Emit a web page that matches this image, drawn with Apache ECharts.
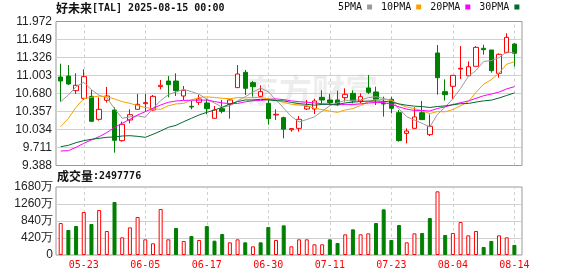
<!DOCTYPE html>
<html><head><meta charset="utf-8">
<script src="https://cdn.jsdelivr.net/npm/echarts@6/dist/echarts.min.js"></script>
<style>html,body{margin:0;padding:0;background:#fff}#c{width:578px;height:276px}</style>
</head><body><div id="c"></div>
<script>
// ---- data ----
const stockName = '好未来';
const stockCode = 'TAL';
const stampText = '2025-08-15 00:00';
const lastVolume = 2497776;
const prevClose = 10.85; // estimated close before the first bar (first volume bar is red)

const dates = ['05-20','05-21','05-22','05-23','05-27','05-28','05-29','05-30',
  '06-02','06-03','06-04','06-05','06-06','06-09','06-10','06-11','06-12','06-13','06-16','06-17',
  '06-18','06-20','06-23','06-24','06-25','06-26','06-27','06-30',
  '07-01','07-02','07-03','07-07','07-08','07-09','07-10','07-11','07-14','07-15','07-16','07-17','07-18',
  '07-21','07-22','07-23','07-24','07-25','07-28','07-29','07-30','07-31',
  '08-01','08-04','08-05','08-06','08-07','08-08','08-11','08-12','08-13','08-14'];
const labelDates = ['05-23','06-05','06-17','06-30','07-11','07-23','08-04','08-14'];

const opens  = [10.976,10.994,10.731,10.593,10.629,10.217,10.558,10.384,9.834,10.205,
  10.396,10.498,10.384,10.803,10.904,10.904,10.635,10.450,10.522,10.510,
  10.235,10.408,10.486,10.785,11.060,10.875,10.629,10.504,10.295,10.247,
  10.030,10.055,10.402,10.402,10.611,10.564,10.564,10.605,10.683,10.546,
  10.779,10.707,10.504,10.576,10.336,9.965,10.055,10.336,9.942,11.407,
  10.713,10.809,11.120,10.998,11.168,11.491,11.461,11.042,11.413,11.568];
const closes = [10.904,10.851,10.827,10.982,10.181,10.396,10.635,9.840,10.127,10.300,
  10.486,10.516,10.629,10.827,10.839,10.731,10.737,10.438,10.582,10.408,
  10.384,10.360,10.564,11.030,10.773,10.803,10.713,10.229,10.307,10.040,
  10.050,10.217,10.450,10.546,10.564,10.516,10.492,10.665,10.546,10.623,
  10.701,10.576,10.492,10.414,9.834,10.007,10.259,10.211,10.091,10.964,
  10.659,11.006,11.132,11.160,11.508,11.467,11.090,11.383,11.688,11.401];
const lows   = [10.534,10.833,10.671,10.563,10.170,10.193,10.516,9.619,9.816,10.145,
  10.390,10.354,10.372,10.755,10.611,10.635,10.563,10.396,10.474,10.306,
  10.235,10.324,10.229,10.780,10.653,10.623,10.611,10.121,10.205,9.876,
  9.995,9.995,10.384,10.312,10.480,10.468,10.456,10.534,10.504,10.504,
  10.671,10.474,10.265,10.324,9.816,9.786,10.050,10.211,9.917,10.659,
  10.552,10.582,10.940,10.994,11.168,11.377,11.054,10.964,11.413,11.162];
const highs  = [11.215,11.191,11.042,11.114,10.743,10.611,10.797,10.432,10.175,10.396,
  10.671,10.671,10.653,10.922,10.994,11.042,10.815,10.546,10.653,10.582,
  10.456,10.564,10.576,11.191,11.102,10.905,10.827,10.564,10.396,10.265,
  10.061,10.277,10.564,10.588,10.737,10.671,10.731,10.773,10.737,10.683,
  11.012,10.803,10.623,10.623,10.384,10.055,10.432,10.546,10.306,11.550,
  10.934,11.006,11.532,11.257,11.532,11.556,11.461,11.401,11.760,11.580];

// volume in 万 (10k shares)
const volumes = [790,618,716,1062,766,1112,593,1309,436,683,
  939,387,288,1136,387,667,346,469,371,716,
  354,519,313,387,313,214,313,692,371,733,
  214,387,387,264,264,387,296,511,634,511,
  535,790,1128,371,741,313,535,544,914,1573,
  494,544,815,486,593,198,346,486,436,249.78];

const ma5 = [10.534,10.653,10.803,10.880,10.749,10.647,10.604,10.407,10.236,10.260,
  10.278,10.254,10.412,10.552,10.659,10.708,10.753,10.714,10.665,10.579,
  10.510,10.434,10.460,10.549,10.622,10.706,10.777,10.710,10.565,10.418,
  10.268,10.169,10.213,10.261,10.365,10.459,10.514,10.557,10.557,10.568,
  10.605,10.622,10.588,10.561,10.403,10.265,10.201,10.145,10.080,10.306,
  10.437,10.586,10.770,10.984,11.093,11.255,11.271,11.322,11.427,11.406];
const ma10 = [10.085,10.235,10.432,10.588,10.611,10.635,10.623,10.582,10.534,10.504,
  10.463,10.429,10.409,10.394,10.460,10.493,10.503,10.563,10.609,10.619,
  10.609,10.594,10.587,10.607,10.601,10.608,10.606,10.585,10.557,10.520,
  10.487,10.473,10.461,10.413,10.392,10.363,10.341,10.385,10.409,10.467,
  10.532,10.568,10.572,10.559,10.486,10.435,10.412,10.366,10.321,10.355,
  10.351,10.394,10.458,10.532,10.700,10.846,10.929,11.046,11.206,11.249];
const ma20 = [9.648,9.655,9.714,9.786,9.846,9.906,9.978,10.073,10.145,10.217,
  10.295,10.354,10.414,10.474,10.522,10.546,10.555,10.560,10.560,10.562,
  10.536,10.511,10.498,10.501,10.530,10.550,10.554,10.574,10.583,10.570,
  10.548,10.533,10.524,10.510,10.496,10.486,10.473,10.485,10.483,10.494,
  10.509,10.520,10.517,10.486,10.439,10.399,10.376,10.376,10.365,10.411,
  10.441,10.481,10.515,10.546,10.593,10.640,10.670,10.706,10.763,10.802];
const ma30 = [9.726,9.750,9.798,9.834,9.858,9.876,9.894,9.900,9.917,9.923,
  9.911,9.894,9.948,10.007,10.073,10.109,10.175,10.235,10.295,10.342,
  10.384,10.432,10.492,10.534,10.564,10.564,10.576,10.564,10.552,10.548,
  10.520,10.498,10.486,10.471,10.484,10.488,10.483,10.511,10.525,10.536,
  10.543,10.545,10.540,10.526,10.493,10.469,10.453,10.445,10.429,10.447,
  10.457,10.478,10.497,10.501,10.526,10.548,10.561,10.599,10.645,10.690];

const priceTicks = [9.388,9.711,10.034,10.357,10.680,11.003,11.326,11.649,11.972];
const volTicks = [0,420,840,1260,1680];

// ---- chart ----
const UP = '#ff0000', DOWN = '#008000';
const chart = echarts.init(document.getElementById('c'), null, {renderer:'canvas'});
const PX0 = 56.85, PW = 461.4;
const monoFont = 'DejaVu Sans Mono';
const cjkFont = 'Noto Sans CJK SC';
const vLines = {
  silent: true, symbol: 'none', z: 1, animation: false,
  label: {show: false},
  lineStyle: {color: '#cfcfcf', type: [3, 3], width: 1},
  emphasis: {disabled: true},
  data: labelDates.map(d => ({xAxis: d}))
};
const candleData = dates.map((d, i) => [opens[i], closes[i], lows[i], highs[i]]);
const volData = volumes.map((v, i) => {
  const pc = i === 0 ? prevClose : closes[i - 1];
  const up = closes[i] >= pc;
  return {value: v, itemStyle: up ? {color: '#fff', borderColor: UP, borderWidth: 1}
                                   : {color: DOWN, borderColor: DOWN, borderWidth: 1}};
});
const maSeries = (name, data, color) => ({
  name, type: 'line', data, xAxisIndex: 1, yAxisIndex: 1,
  showSymbol: false, symbol: 'none', smooth: false, z: 3,
  lineStyle: {color, width: 1}, itemStyle: {color}, emphasis: {disabled: true}
});

const option = {
  animation: false,
  backgroundColor: '#fff',
  title: [
    {left: 56, top: 2, padding: 0,
     text: '{c|' + stockName + '}{m|[' + stockCode + '] ' + stampText + '}',
     textStyle: {rich: {c: {fontFamily: cjkFont, fontSize: 12, color: '#111'},
                        m: {fontFamily: monoFont, fontSize: 10, color: '#111'}}}},
    {left: 57, top: 170, padding: 0,
     text: '{c|成交量}{m|:' + lastVolume + '}',
     textStyle: {rich: {c: {fontFamily: cjkFont, fontSize: 12, color: '#111'},
                        m: {fontFamily: monoFont, fontSize: 10, color: '#111'}}}}
  ],
  legend: {
    left: 338, top: 2, padding: 0, align: 'right', icon: 'rect',
    itemWidth: 5, itemHeight: 5, itemGap: 9,
    data: ['5PMA', '10PMA', '20PMA', '30PMA'],
    textStyle: {fontFamily: monoFont, fontSize: 10, color: '#111'},
    selectedMode: false
  },
  graphic: [
    {type: 'text', left: 246, top: 74, z: -1, silent: true,
     style: {text: '东方财富', fill: 'rgba(0,0,0,0.07)', font: 'bold 33px "Noto Sans CJK SC"'}}
  ],
  grid: [
    {left: 56, top: 21.5, width: 466, height: 144, show: true, borderColor: '#999', borderWidth: 1},
    {left: PX0, top: 21.5, width: PW, height: 144},
    {left: 56, top: 187, width: 466, height: 68, show: true, borderColor: '#999', borderWidth: 1},
    {left: PX0, top: 187, width: PW, height: 68}
  ],
  xAxis: [
    {gridIndex: 0, type: 'value', min: 0, max: 1, show: false},
    {gridIndex: 1, type: 'category', data: dates, show: false},
    {gridIndex: 2, type: 'value', min: 0, max: 1, show: false},
    {gridIndex: 3, type: 'category', data: dates,
     axisLine: {show: false}, axisTick: {show: false}, splitLine: {show: false},
     axisLabel: {interval: (i, v) => labelDates.includes(v), color: '#ff0000',
                 fontFamily: monoFont, fontSize: 10, margin: 5}}
  ],
  yAxis: [
    {gridIndex: 0, type: 'value', min: priceTicks[0], max: priceTicks[priceTicks.length - 1],
     axisLine: {show: false},
     axisTick: {show: false, customValues: priceTicks.slice(1, -1)},
     axisLabel: {customValues: priceTicks, formatter: v => v.toFixed(3), margin: 4,
                 fontFamily: 'Liberation Sans', fontSize: 12, color: '#222'},
     splitLine: {show: true, lineStyle: {color: '#d0d0d0', width: 1}}},
    {gridIndex: 1, type: 'value', min: priceTicks[0], max: priceTicks[priceTicks.length - 1], show: false,
     splitLine: {show: false}},
    {gridIndex: 2, type: 'value', min: volTicks[0], max: volTicks[volTicks.length - 1],
     axisLine: {show: false},
     axisTick: {show: false, customValues: volTicks.slice(1, -1)},
     axisLabel: {customValues: volTicks, formatter: v => v === 0 ? '0' : v + '万', margin: 3,
                 fontFamily: 'Liberation Sans', fontSize: 12, color: '#222'},
     splitLine: {show: true, lineStyle: {color: '#d0d0d0', width: 1}}},
    {gridIndex: 3, type: 'value', min: volTicks[0], max: volTicks[volTicks.length - 1], show: false,
     splitLine: {show: false}}
  ],
  series: [
    {name: 'K', type: 'candlestick', xAxisIndex: 1, yAxisIndex: 1, data: candleData,
     barWidth: 5, z: 2,
     itemStyle: {color: '#fff', color0: DOWN, borderColor: UP, borderColor0: DOWN, borderWidth: 1},
     emphasis: {disabled: true},
     markLine: vLines},
    maSeries('5PMA', ma5, '#9b9b9b'),
    maSeries('10PMA', ma10, '#f5a200'),
    maSeries('20PMA', ma20, '#ff00ff'),
    maSeries('30PMA', ma30, '#006b2d'),
    {name: 'VOL', type: 'bar', xAxisIndex: 3, yAxisIndex: 3, data: volData, barWidth: 4, z: 2,
     emphasis: {disabled: true}, markLine: vLines}
  ]
};
chart.setOption(option);
</script>
</body></html>
